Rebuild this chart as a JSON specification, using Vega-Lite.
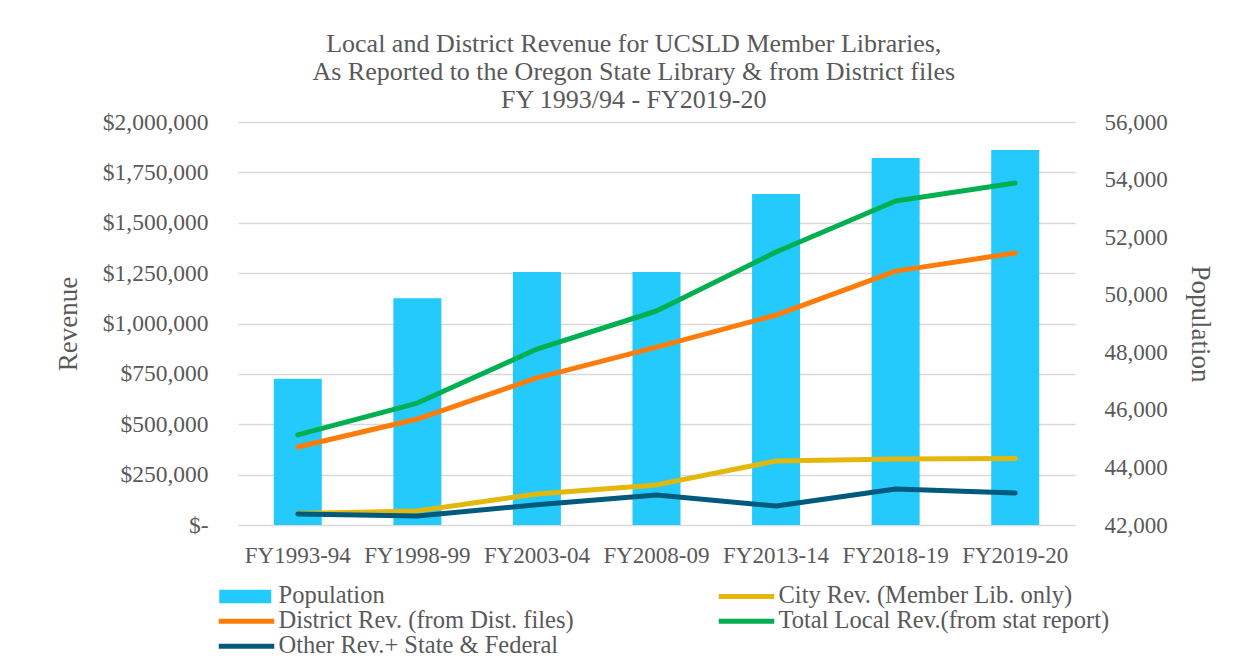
{
  "$schema": "https://vega.github.io/schema/vega-lite/v6.json",
  "width": 837,
  "height": 403,
  "autosize": {"type": "none"},
  "padding": {"left": 238, "top": 122, "right": 179, "bottom": 134},
  "background": "white",
  "config": {
    "font": "Liberation Serif",
    "view": {"stroke": null},
    "axis": {"labelColor": "#595959", "titleColor": "#595959", "labelFont": "Liberation Serif", "titleFont": "Liberation Serif", "titleFontWeight": "normal"}
  },
  "title": {
    "text": ["Local and District Revenue for UCSLD Member Libraries,", "As Reported to the Oregon State Library & from District files", "FY 1993/94 - FY2019-20"],
    "fontSize": 26,
    "lineHeight": 28,
    "font": "Liberation Serif",
    "fontWeight": "normal",
    "color": "#595959",
    "anchor": "middle",
    "frame": "bounds",
    "offset": -3
  },
  "datasets": {
    "pop": [
      {"year": "FY1993-94", "population": 47080},
      {"year": "FY1998-99", "population": 49880},
      {"year": "FY2003-04", "population": 50790},
      {"year": "FY2008-09", "population": 50790},
      {"year": "FY2013-14", "population": 53500},
      {"year": "FY2018-19", "population": 54750},
      {"year": "FY2019-20", "population": 55030}
    ],
    "rev": [
      {"year": "FY1993-94", "series": "City Rev. (Member Lib. only)", "value": 57000},
      {"year": "FY1998-99", "series": "City Rev. (Member Lib. only)", "value": 70000},
      {"year": "FY2003-04", "series": "City Rev. (Member Lib. only)", "value": 154000},
      {"year": "FY2008-09", "series": "City Rev. (Member Lib. only)", "value": 199000},
      {"year": "FY2013-14", "series": "City Rev. (Member Lib. only)", "value": 318000},
      {"year": "FY2018-19", "series": "City Rev. (Member Lib. only)", "value": 328000},
      {"year": "FY2019-20", "series": "City Rev. (Member Lib. only)", "value": 330000},
      {"year": "FY1993-94", "series": "District Rev. (from Dist. files)", "value": 387000},
      {"year": "FY1998-99", "series": "District Rev. (from Dist. files)", "value": 526000},
      {"year": "FY2003-04", "series": "District Rev. (from Dist. files)", "value": 730000},
      {"year": "FY2008-09", "series": "District Rev. (from Dist. files)", "value": 883000},
      {"year": "FY2013-14", "series": "District Rev. (from Dist. files)", "value": 1042000},
      {"year": "FY2018-19", "series": "District Rev. (from Dist. files)", "value": 1260000},
      {"year": "FY2019-20", "series": "District Rev. (from Dist. files)", "value": 1350000},
      {"year": "FY1993-94", "series": "Total Local Rev.(from stat report)", "value": 447000},
      {"year": "FY1998-99", "series": "Total Local Rev.(from stat report)", "value": 605000},
      {"year": "FY2003-04", "series": "Total Local Rev.(from stat report)", "value": 873000},
      {"year": "FY2008-09", "series": "Total Local Rev.(from stat report)", "value": 1062000},
      {"year": "FY2013-14", "series": "Total Local Rev.(from stat report)", "value": 1355000},
      {"year": "FY2018-19", "series": "Total Local Rev.(from stat report)", "value": 1608000},
      {"year": "FY2019-20", "series": "Total Local Rev.(from stat report)", "value": 1697000},
      {"year": "FY1993-94", "series": "Other Rev.+ State & Federal", "value": 55000},
      {"year": "FY1998-99", "series": "Other Rev.+ State & Federal", "value": 45000},
      {"year": "FY2003-04", "series": "Other Rev.+ State & Federal", "value": 100000},
      {"year": "FY2008-09", "series": "Other Rev.+ State & Federal", "value": 149000},
      {"year": "FY2013-14", "series": "Other Rev.+ State & Federal", "value": 94000},
      {"year": "FY2018-19", "series": "Other Rev.+ State & Federal", "value": 179000},
      {"year": "FY2019-20", "series": "Other Rev.+ State & Federal", "value": 159000}
    ]
  },
  "encoding": {
    "x": {
      "field": "year",
      "type": "nominal",
      "sort": null,
      "scale": {"paddingInner": 0.6, "paddingOuter": 0.3},
      "axis": {"title": null, "labelAngle": 0, "labelFontSize": 23, "labelPadding": 19, "domain": false, "ticks": false, "grid": false}
    }
  },
  "layer": [
    {
      "data": {"name": "pop"},
      "mark": {"type": "bar", "size": 48, "color": "#25CAFD"},
      "encoding": {
        "y": {
          "field": "population",
          "type": "quantitative",
          "scale": {"domain": [42000, 56000], "zero": false, "nice": false},
          "axis": {"orient": "right", "title": "Population", "titleFontSize": 27, "titlePadding": 18, "values": [42000, 44000, 46000, 48000, 50000, 52000, 54000, 56000], "labelExpr": "format(datum.value, ',')", "labelFontSize": 23, "labelPadding": 29, "domain": false, "ticks": false, "grid": false}
        },
        "y2": {"datum": 42000},
        "color": {"datum": "Population"}
      }
    },
    {
      "data": {"name": "rev"},
      "mark": {"type": "line", "strokeWidth": 5, "strokeCap": "round", "strokeJoin": "round"},
      "encoding": {
        "y": {
          "field": "value",
          "type": "quantitative",
          "scale": {"domain": [0, 2000000], "nice": false},
          "axis": {"orient": "left", "title": "Revenue", "titleFontSize": 27, "titlePadding": 20, "values": [0, 250000, 500000, 750000, 1000000, 1250000, 1500000, 1750000, 2000000], "labelExpr": "datum.value == 0 ? '$-' : '$' + format(datum.value, ',')", "labelFontSize": 23.5, "labelPadding": 30, "domain": false, "ticks": false, "grid": true, "gridColor": "#D9D9D9", "gridWidth": 1.5}
        },
        "color": {
          "field": "series",
          "type": "nominal",
          "scale": {
            "domain": ["Population", "City Rev. (Member Lib. only)", "District Rev. (from Dist. files)", "Total Local Rev.(from stat report)", "Other Rev.+ State & Federal"],
            "range": ["#25CAFD", "#E3B70C", "#FF7C0A", "#00B050", "#005A7C"]
          },
          "legend": {
            "title": null,
            "orient": "none",
            "direction": "horizontal",
            "legendX": -26,
            "legendY": 462,
            "columns": 2,
            "columnPadding": 138,
            "rowPadding": 0,
            "padding": 0,
            "symbolSize": 100,
            "labelOffset": 42,
            "labelFontSize": 24.5,
            "labelFont": "Liberation Serif",
            "labelColor": "#595959",
            "labelLimit": 500,
            "encode": {
              "symbols": {
                "update": {
                  "shape": {"signal": "datum.value === 'Population' ? 'M-1,-1.35H9.4V1.35H-1Z' : 'M-1.1,-0.5H10V0.5H-1.1Z'"},
                  "fill": {"signal": "scale('color', datum.value)"},
                  "stroke": {"value": "transparent"},
                  "strokeWidth": {"value": 0},
                  "opacity": {"value": 1}
                }
              }
            }
          }
        }
      }
    }
  ],
  "resolve": {"scale": {"y": "independent"}}
}
